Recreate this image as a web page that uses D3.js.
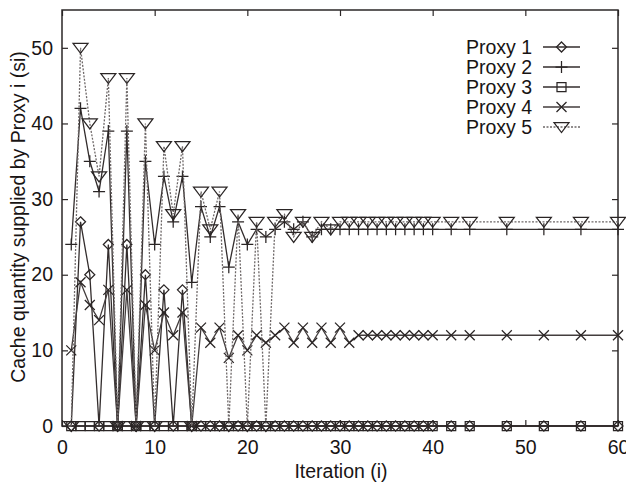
<!DOCTYPE html>
<html>
<head>
<meta charset="utf-8">
<script src="https://cdn.jsdelivr.net/npm/d3@7"></script>
<style>
    html, body { margin: 0; padding: 0; background: #fff; }
    svg { display: block; font-family: "Liberation Sans", Arial, sans-serif; }
</style>
</head>
<body>
<svg id="chart" width="626" height="493"></svg>
<script>
// ——— Data ———
const iterations = [1, 2, 3, 4, 5, 6, 7, 8, 9, 10, 11, 12, 13, 14, 15, 16, 17, 18, 19, 20,
    21, 22, 23, 24, 25, 26, 27, 28, 29, 30, 31, 32, 33, 34, 35, 36, 37, 38, 39, 40,
    42, 44, 48, 52, 56, 60];

const proxy1 = [0, 27, 20, 0, 24, 0, 24, 0, 20, 0, 18, 0, 18, 0, 0, 0, 0, 0, 0, 0,
    0, 0, 0, 0, 0, 0, 0, 0, 0, 0, 0, 0, 0, 0, 0, 0, 0, 0, 0, 0,
    0, 0, 0, 0, 0, 0];
const proxy2 = [24, 42, 35, 31, 39, 0, 39, 0, 35, 24, 33, 27, 33, 19, 29, 25, 29, 21, 27, 24,
    26, 25, 26, 27, 26, 27, 25, 26, 26, 26, 26, 26, 26, 26, 26, 26, 26, 26, 26, 26,
    26, 26, 26, 26, 26, 26];
const proxy3 = [0, 0, 0, 0, 0, 0, 0, 0, 0, 0, 0, 0, 0, 0, 0, 0, 0, 0, 0, 0,
    0, 0, 0, 0, 0, 0, 0, 0, 0, 0, 0, 0, 0, 0, 0, 0, 0, 0, 0, 0,
    0, 0, 0, 0, 0, 0];
const proxy4 = [10, 19, 16, 14, 18, 0, 18, 0, 16, 10, 15, 12, 15, 0, 13, 11, 13, 9, 12, 10,
    12, 11, 12, 13, 11, 13, 11, 13, 11, 13, 11, 12, 12, 12, 12, 12, 12, 12, 12, 12,
    12, 12, 12, 12, 12, 12];
const proxy5 = [0, 50, 40, 33, 46, 0, 46, 0, 40, 0, 37, 28, 37, 0, 31, 26, 31, 0, 28, 0,
    27, 0, 27, 28, 25, 27, 25, 27, 26, 27, 27, 27, 27, 27, 27, 27, 27, 27, 27, 27,
    27, 27, 27, 27, 27, 27];

const seriesNames = ['Proxy 1', 'Proxy 2', 'Proxy 3', 'Proxy 4', 'Proxy 5'];
const seriesValues = [proxy1, proxy2, proxy3, proxy4, proxy5];
const xTicks = [0, 10, 20, 30, 40, 50, 60];
const yTicks = [0, 10, 20, 30, 40, 50];

// ——— Layout ———
const plotL = 62, plotR = 618, plotT = 10, plotB = 426;
const ink = '#2b2727';
const textInk = '#181414';

const svg = d3.select('#chart');
const x = d3.scaleLinear().domain([0, 60]).range([plotL, plotR]);
const y = d3.scaleLinear().domain([0, 55]).range([plotB, plotT]);

// marker shapes (gnuplot style, open)
const markers = [
    'M0,-5L5,0L0,5L-5,0Z',             // diamond
    'M-6,0H6M0,-6V6',                  // plus
    'M-4.5,-4.5H4.5V4.5H-4.5Z',        // square
    'M-5,-5L5,5M-5,5L5,-5',            // cross
    'M-7.5,-4.5H7.5L0,5.5Z'            // triangle down
];
const lineStyles = [
    { color: '#332d2d', dash: null },
    { color: '#332d2d', dash: null },
    { color: '#332d2d', dash: null },
    { color: '#433d3d', dash: null },
    { color: '#6e6868', dash: '2,1.5' }
];

// ——— Axes (inward ticks, mirrored) ———
function styleAxis(g) {
    g.select('.domain').remove();
    g.selectAll('line').attr('stroke', ink).attr('stroke-width', 1.2);
    g.selectAll('text').attr('fill', textInk).attr('font-size', '19.5px')
        .attr('font-family', '"Liberation Sans", Arial, sans-serif');
}

svg.append('g').attr('transform', `translate(0,${plotB})`)
    .call(d3.axisBottom(x).tickValues(xTicks).tickSize(-6).tickPadding(14))
    .call(styleAxis);
svg.append('g').attr('transform', `translate(0,${plotT})`)
    .call(d3.axisTop(x).tickValues(xTicks).tickSize(-6).tickFormat(''))
    .call(styleAxis);
svg.append('g').attr('transform', `translate(${plotL},0)`)
    .call(d3.axisLeft(y).tickValues(yTicks).tickSize(-6).tickPadding(9))
    .call(styleAxis);
svg.append('g').attr('transform', `translate(${plotR},0)`)
    .call(d3.axisRight(y).tickValues(yTicks).tickSize(-6).tickFormat(''))
    .call(styleAxis);

svg.append('rect')
    .attr('x', plotL).attr('y', plotT)
    .attr('width', plotR - plotL).attr('height', plotB - plotT)
    .attr('fill', 'none').attr('stroke', ink).attr('stroke-width', 1.5);

// ——— Series ———
const line = d3.line().x(d => x(d.i)).y(d => y(d.v));

seriesValues.forEach((vals, k) => {
    const pts = iterations.map((it, j) => ({ i: it, v: vals[j] }));
    const st = lineStyles[k];
    const g = svg.append('g');
    g.append('path')
        .datum(pts)
        .attr('d', line)
        .attr('fill', 'none')
        .attr('stroke', st.color)
        .attr('stroke-width', 1.3)
        .attr('stroke-dasharray', st.dash);
    g.selectAll('path.mk')
        .data(pts)
        .join('path')
        .attr('class', 'mk')
        .attr('transform', d => `translate(${x(d.i)},${y(d.v)})`)
        .attr('d', markers[k])
        .attr('fill', 'none')
        .attr('stroke', '#2a2525')
        .attr('stroke-width', 1.25);
});

// ——— Legend ———
const legend = svg.append('g');
seriesNames.forEach((name, k) => {
    const ly = 47 + k * 20;
    legend.append('text')
        .attr('x', 532).attr('y', ly)
        .attr('dy', '0.35em')
        .attr('text-anchor', 'end')
        .attr('font-size', '19.5px')
        .attr('fill', textInk)
        .text(name);
    legend.append('line')
        .attr('x1', 543).attr('x2', 580).attr('y1', ly).attr('y2', ly)
        .attr('stroke', lineStyles[k].color).attr('stroke-width', 1.3)
        .attr('stroke-dasharray', lineStyles[k].dash);
    legend.append('path')
        .attr('transform', `translate(561.5,${ly})`)
        .attr('d', markers[k])
        .attr('fill', 'none')
        .attr('stroke', '#2a2525')
        .attr('stroke-width', 1.25);
});

// ——— Axis titles ———
svg.append('text')
    .attr('x', 341).attr('y', 471)
    .attr('dy', '0.35em')
    .attr('text-anchor', 'middle')
    .attr('font-size', '19.5px')
    .attr('fill', textInk)
    .text('Iteration (i)');

svg.append('text')
    .attr('transform', 'translate(18,217) rotate(-90)')
    .attr('dy', '0.35em')
    .attr('text-anchor', 'middle')
    .attr('font-size', '19.5px')
    .attr('fill', textInk)
    .text('Cache quantity supplied by Proxy i (si)');
</script>
</body>
</html>
